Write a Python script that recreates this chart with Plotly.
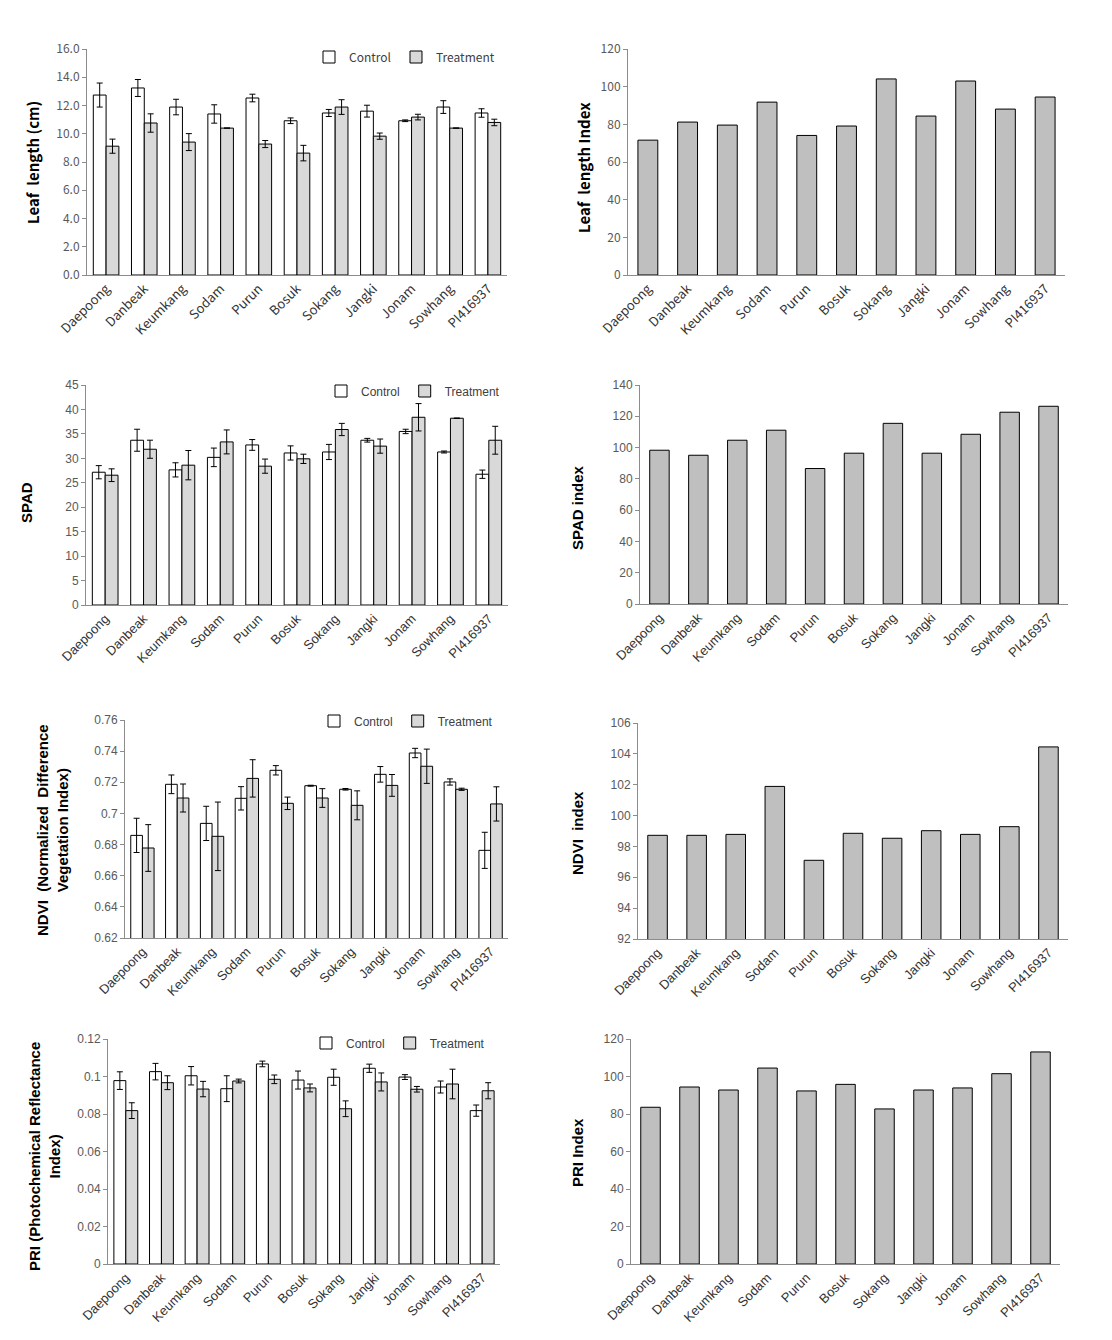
import plotly.graph_objects as go

# Reference canvas is 1112x1340; the page body adds an 8px margin,
# so the figure is sized to fit inside it and pixel positions are shifted.
REF_W, REF_H = 1112, 1340
OFF = 8
W, H = REF_W - 2 * OFF, REF_H - 2 * OFF

cultivars = ["Daepoong", "Danbeak", "Keumkang", "Sodam", "Purun", "Bosuk",
             "Sokang", "Jangki", "Jonam", "Sowhang", "PI416937"]

# Leaf length (cm)
leaf_ctrl = [12.74, 13.24, 11.89, 11.40, 12.53, 10.92, 11.47, 11.60, 10.92, 11.89, 11.47]
leaf_ctrl_err = [0.85, 0.60, 0.55, 0.65, 0.27, 0.20, 0.25, 0.42, 0.06, 0.45, 0.30]
leaf_trt = [9.12, 10.76, 9.41, 10.40, 9.27, 8.63, 11.89, 9.83, 11.18, 10.40, 10.80]
leaf_trt_err = [0.50, 0.65, 0.60, 0.0, 0.25, 0.55, 0.52, 0.22, 0.20, 0.0, 0.23]
leaf_index = [71.6, 81.2, 79.6, 91.8, 74.1, 79.1, 104.1, 84.4, 103.0, 88.1, 94.5]

# SPAD
spad_ctrl = [27.16, 33.70, 27.64, 30.20, 32.74, 31.10, 31.30, 33.70, 35.50, 31.30, 26.75]
spad_ctrl_err = [1.35, 2.25, 1.45, 1.90, 1.10, 1.45, 1.55, 0.38, 0.45, 0.20, 0.85]
spad_trt = [26.55, 31.86, 28.60, 33.36, 28.40, 29.90, 35.90, 32.50, 38.40, 38.20, 33.70]
spad_trt_err = [1.30, 1.85, 3.00, 2.45, 1.45, 0.95, 1.25, 1.45, 2.80, 0.05, 2.85]
spad_index = [98.3, 95.1, 104.7, 111.1, 86.6, 96.4, 115.5, 96.4, 108.5, 122.6, 126.4]

# NDVI
ndvi_ctrl = [0.6859, 0.7187, 0.6936, 0.7097, 0.7277, 0.7178, 0.7155, 0.7251, 0.7388, 0.7202, 0.6763]
ndvi_ctrl_err = [0.011, 0.006, 0.011, 0.0075, 0.003, 0.0003, 0.0005, 0.005, 0.003, 0.002, 0.0116]
ndvi_trt = [0.6778, 0.7099, 0.6853, 0.7225, 0.7065, 0.7099, 0.7052, 0.7180, 0.7303, 0.7155, 0.7061]
ndvi_trt_err = [0.015, 0.009, 0.022, 0.012, 0.004, 0.006, 0.0093, 0.007, 0.011, 0.0007, 0.011]
ndvi_index = [98.72, 98.72, 98.78, 101.89, 97.10, 98.85, 98.53, 99.02, 98.78, 99.28, 104.45]

# PRI
pri_ctrl = [0.0978, 0.1026, 0.1004, 0.0935, 0.1067, 0.0981, 0.0996, 0.1044, 0.0997, 0.0944, 0.0818]
pri_ctrl_err = [0.0047, 0.0044, 0.0049, 0.0069, 0.0015, 0.0048, 0.0043, 0.0022, 0.0013, 0.0032, 0.0030]
pri_trt = [0.0818, 0.0967, 0.0933, 0.0976, 0.0985, 0.0939, 0.0828, 0.0971, 0.0932, 0.0960, 0.0924]
pri_trt_err = [0.0042, 0.0037, 0.0041, 0.0010, 0.0023, 0.0021, 0.0042, 0.0048, 0.0015, 0.0079, 0.0043]
pri_index = [83.6, 94.4, 92.8, 104.5, 92.3, 95.8, 82.7, 92.8, 93.9, 101.5, 113.1]

# tick labels
leaf_ticks = [0, 2, 4, 6, 8, 10, 12, 14, 16]
leaf_ticktext = ["0.0", "2.0", "4.0", "6.0", "8.0", "10.0", "12.0", "14.0", "16.0"]
index120_ticks = [0, 20, 40, 60, 80, 100, 120]
spad_ticks = [0, 5, 10, 15, 20, 25, 30, 35, 40, 45]
spad_index_ticks = [0, 20, 40, 60, 80, 100, 120, 140]
ndvi_ticks = [0.62, 0.64, 0.66, 0.68, 0.70, 0.72, 0.74, 0.76]
ndvi_ticktext = ["0.62", "0.64", "0.66", "0.68", "0.7", "0.72", "0.74", "0.76"]
ndvi_index_ticks = [92, 94, 96, 98, 100, 102, 104, 106]
pri_ticks = [0, 0.02, 0.04, 0.06, 0.08, 0.10, 0.12]
pri_ticktext = ["0", "0.02", "0.04", "0.06", "0.08", "0.1", "0.12"]

CTRL_COLOR = "#ffffff"
TRT_COLOR = "#d9d9d9"
IDX_COLOR = "#bfbfbf"
AXIS_COLOR = "#8c8c8c"

KR_FONT = "Noto Sans CJK KR, Noto Sans, sans-serif"
AR_FONT = "Liberation Sans, Arial, sans-serif"


def px_x(px):
    return (px - OFF) / W


def px_y(py):
    return 1 - (py - OFF) / H


# panel pixel boxes in reference coordinates: (x0, x1, ytop, ybottom)
panels = [
    (87, 507, 49, 275),
    (628, 1065, 49, 275),
    (86, 508, 385, 605),
    (640, 1068, 385, 604),
    (125, 508, 720, 938),
    (638, 1068, 723, 939),
    (108, 500, 1039, 1264),
    (631, 1060, 1039, 1264),
]

fig = go.Figure()


def add_group(n, ctrl, ctrl_err, trt, trt_err, legend_name):
    xa = "x" if n == 1 else f"x{n}"
    ya = "y" if n == 1 else f"y{n}"
    fig.add_trace(go.Bar(
        x=cultivars, y=ctrl, name="Control", xaxis=xa, yaxis=ya,
        marker=dict(color=CTRL_COLOR, line=dict(color="black", width=1)),
        error_y=dict(type="data", array=ctrl_err, color="black", thickness=1, width=3),
        offsetgroup=f"c{n}", legend=legend_name, showlegend=True,
    ))
    fig.add_trace(go.Bar(
        x=cultivars, y=trt, name="Treatment", xaxis=xa, yaxis=ya,
        marker=dict(color=TRT_COLOR, line=dict(color="black", width=1)),
        error_y=dict(type="data", array=trt_err, color="black", thickness=1, width=3),
        offsetgroup=f"t{n}", legend=legend_name, showlegend=True,
    ))


def add_index(n, vals):
    xa = f"x{n}"
    ya = f"y{n}"
    fig.add_trace(go.Bar(
        x=cultivars, y=vals, xaxis=xa, yaxis=ya, width=0.5,
        marker=dict(color=IDX_COLOR, line=dict(color="black", width=1)),
        showlegend=False,
    ))


add_group(1, leaf_ctrl, leaf_ctrl_err, leaf_trt, leaf_trt_err, "legend")
add_index(2, leaf_index)
add_group(3, spad_ctrl, spad_ctrl_err, spad_trt, spad_trt_err, "legend2")
add_index(4, spad_index)
add_group(5, ndvi_ctrl, ndvi_ctrl_err, ndvi_trt, ndvi_trt_err, "legend3")
add_index(6, ndvi_index)
add_group(7, pri_ctrl, pri_ctrl_err, pri_trt, pri_trt_err, "legend4")
add_index(8, pri_index)

yspecs = [
    ([0, 16], leaf_ticks, leaf_ticktext, KR_FONT),
    ([0, 120], index120_ticks, [str(v) for v in index120_ticks], KR_FONT),
    ([0, 45], spad_ticks, [str(v) for v in spad_ticks], AR_FONT),
    ([0, 140], spad_index_ticks, [str(v) for v in spad_index_ticks], AR_FONT),
    ([0.62, 0.76], ndvi_ticks, ndvi_ticktext, AR_FONT),
    ([92, 106], ndvi_index_ticks, [str(v) for v in ndvi_index_ticks], AR_FONT),
    ([0, 0.12], pri_ticks, pri_ticktext, AR_FONT),
    ([0, 120], index120_ticks, [str(v) for v in index120_ticks], AR_FONT),
]

layout = dict(
    width=W, height=H,
    margin=dict(l=0, r=0, t=0, b=0, autoexpand=False),
    paper_bgcolor="white", plot_bgcolor="white",
    barmode="group", bargap=0.33, bargroupgap=0.0,
    showlegend=True,
)

for i, ((x0, x1, yt, yb), (rng, tv, tt, fnt)) in enumerate(zip(panels, yspecs), start=1):
    xk = "xaxis" if i == 1 else f"xaxis{i}"
    yk = "yaxis" if i == 1 else f"yaxis{i}"
    anchor_y = "y" if i == 1 else f"y{i}"
    anchor_x = "x" if i == 1 else f"x{i}"
    layout[xk] = dict(
        domain=[px_x(x0), px_x(x1)], anchor=anchor_y, automargin=False,
        showline=True, linecolor=AXIS_COLOR, linewidth=1,
        ticks="", tickangle=-45, showgrid=False, zeroline=False,
        tickfont=dict(family=fnt, size=13, color="#333333"),
        fixedrange=True,
    )
    layout[yk] = dict(
        domain=[px_y(yb), px_y(yt)], anchor=anchor_x, automargin=False,
        range=rng, tickvals=tv, ticktext=tt,
        showline=True, linecolor=AXIS_COLOR, linewidth=1,
        ticks="outside", ticklen=4, tickcolor=AXIS_COLOR,
        showgrid=False, zeroline=False,
        tickfont=dict(family=fnt, size=12, color="#595959"),
        fixedrange=True,
    )

legend_common = dict(
    orientation="h", xanchor="right", yanchor="middle",
    bgcolor="rgba(0,0,0,0)", itemwidth=30, tracegroupgap=0,
)
layout["legend"] = dict(legend_common, x=px_x(500), y=px_y(57),
                        font=dict(family=KR_FONT, size=12, color="#404040"))
layout["legend2"] = dict(legend_common, x=px_x(505), y=px_y(391),
                         font=dict(family=AR_FONT, size=12, color="#404040"))
layout["legend3"] = dict(legend_common, x=px_x(498), y=px_y(721),
                         font=dict(family=AR_FONT, size=12, color="#404040"))
layout["legend4"] = dict(legend_common, x=px_x(490), y=px_y(1043),
                         font=dict(family=AR_FONT, size=12, color="#404040"))

fig.update_layout(**layout)

ytitles = [
    ("Leaf  length (cm)", 32, 163, KR_FONT),
    ("Leaf  length Index", 583, 168, KR_FONT),
    ("SPAD", 27, 503, AR_FONT),
    ("SPAD index", 577, 508, AR_FONT),
    ("NDVI  (Normalized  Difference<br>Vegetation Index)", 52, 830, AR_FONT),
    ("NDVI  index", 578, 833, AR_FONT),
    ("PRI (Photochemical Reflectance<br>Index)", 44, 1157, AR_FONT),
    ("PRI Index", 577, 1153, AR_FONT),
]
for text, px, py, fnt in ytitles:
    fig.add_annotation(
        text=f"<b>{text}</b>", x=px_x(px), y=px_y(py),
        xref="paper", yref="paper", xanchor="center", yanchor="middle",
        textangle=-90, showarrow=False,
        font=dict(family=fnt, size=15, color="black"),
    )

fig.write_html("out.html")
